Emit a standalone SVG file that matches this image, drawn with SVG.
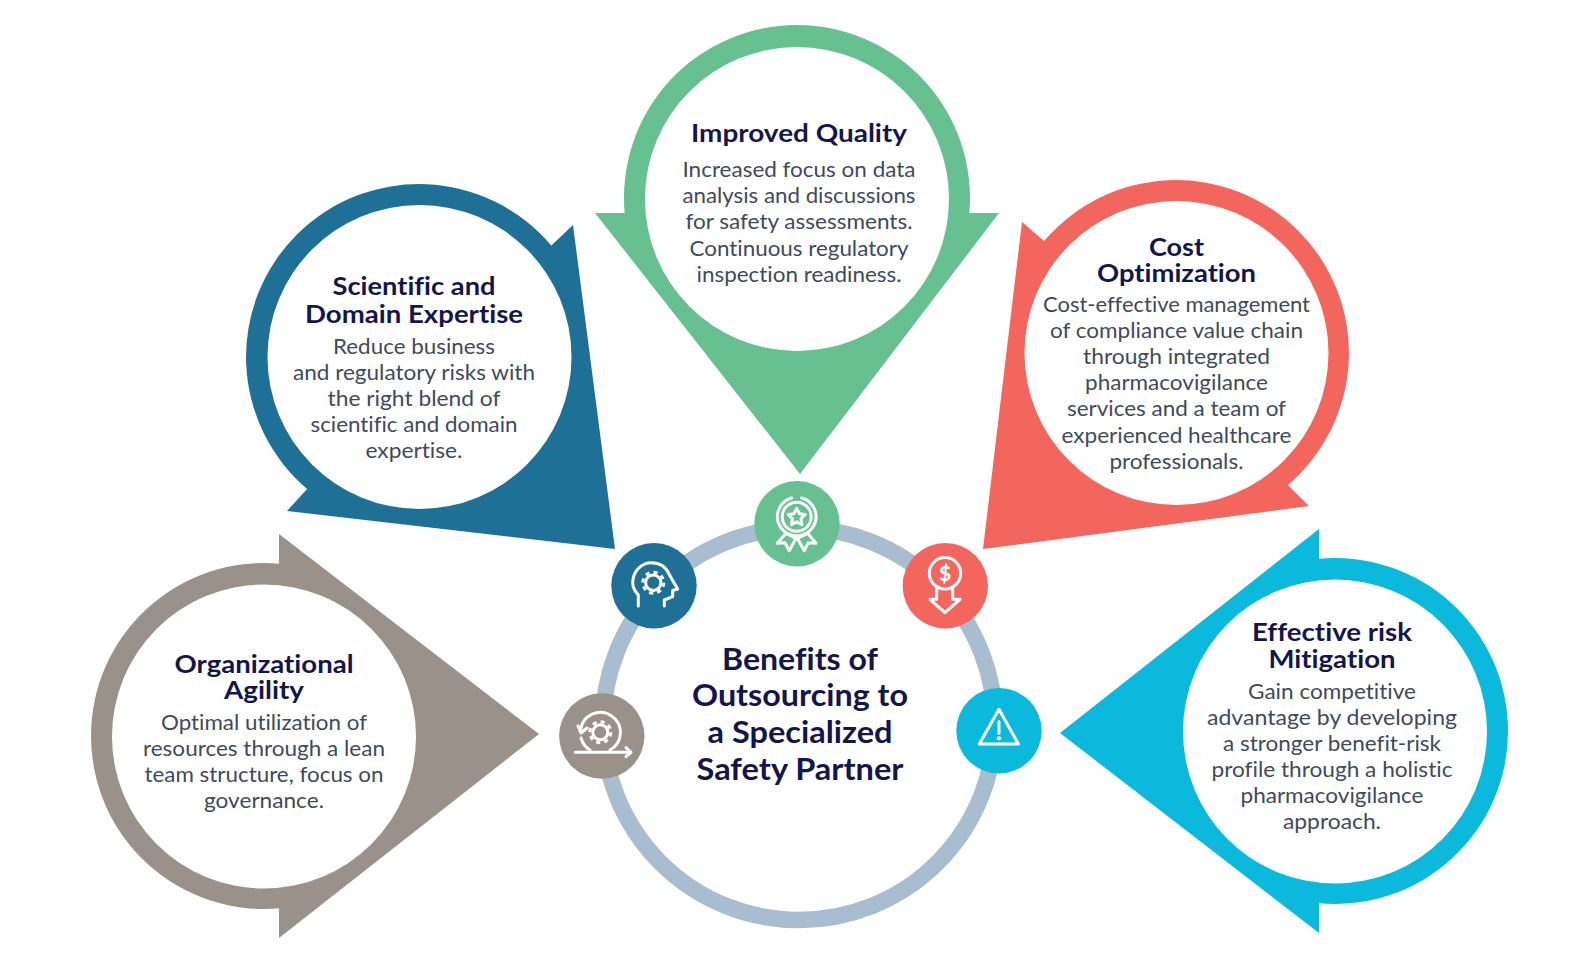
<svg xmlns="http://www.w3.org/2000/svg" width="1581" height="980" viewBox="0 0 1581 980">
<style>
text{font-family:"Lato","Open Sans","Liberation Sans",sans-serif;text-anchor:middle;font-variant-ligatures:none}
.t{font-size:25px;font-weight:700;fill:#14154b}
.b{font-size:21.5px;font-weight:400;fill:#3f4a5b}
.c{font-size:31px;font-weight:700;fill:#14154b}
.in{fill:#fff}
.ic{fill:none;stroke:#fff;stroke-width:3;stroke-linecap:round;stroke-linejoin:round}
.teeth{fill:none;stroke:#fff}
.green{fill:#66c08f}.blue{fill:#1f7097}.red{fill:#f2665e}.gray{fill:#9a918a}.cyan{fill:#0bb9dd}
</style>
<rect width="1581" height="980" fill="#fff"/>
<g id="connectors"><circle cx="799" cy="724" r="196" fill="none" stroke="#a9bdd0" stroke-width="16.5"/></g>

<g id="improved-quality">
<path class="green" d="M595,213 L624.650,213 A173,173 0 0 1 797,25 A173,173 0 0 1 969.350,213 L999,213 L800,474 Z"/>
<circle class="in" cx="797" cy="199" r="152"/>
<text class="t" x="799" y="142" textLength="216" lengthAdjust="spacingAndGlyphs">Improved Quality</text>
<text class="b" x="799" y="177" textLength="233" lengthAdjust="spacingAndGlyphs">Increased focus on data</text>
<text class="b" x="799" y="203" textLength="233" lengthAdjust="spacingAndGlyphs">analysis and discussions</text>
<text class="b" x="799" y="229.200" textLength="227" lengthAdjust="spacingAndGlyphs">for safety assessments.</text>
<text class="b" x="799" y="255.500" textLength="219" lengthAdjust="spacingAndGlyphs">Continuous regulatory</text>
<text class="b" x="799" y="281.800" textLength="205" lengthAdjust="spacingAndGlyphs">inspection readiness.</text>
</g>

<g id="scientific-expertise">
<path class="blue" d="M573,225 L551.300,245.600 A173,173 0 0 0 296.700,234.700 A173,173 0 0 0 307.100,488.900 L287,511 L615,549 Z"/>
<circle class="in" cx="419.500" cy="357" r="152"/>
<text class="t" x="414" y="295.400" textLength="163" lengthAdjust="spacingAndGlyphs">Scientific and</text>
<text class="t" x="414" y="322.600" textLength="218" lengthAdjust="spacingAndGlyphs">Domain Expertise</text>
<text class="b" x="414" y="353.500" textLength="162" lengthAdjust="spacingAndGlyphs">Reduce business</text>
<text class="b" x="414" y="379.500" textLength="242" lengthAdjust="spacingAndGlyphs">and regulatory risks with</text>
<text class="b" x="414" y="405.500" textLength="173" lengthAdjust="spacingAndGlyphs">the right blend of</text>
<text class="b" x="414" y="431.800" textLength="207" lengthAdjust="spacingAndGlyphs">scientific and domain</text>
<text class="b" x="414" y="457.800" textLength="97" lengthAdjust="spacingAndGlyphs">expertise.</text>
</g>

<g id="cost-optimization">
<path class="red" d="M1022,222 L1044.100,241.100 A173,173 0 0 1 1298.300,230.700 A173,173 0 0 1 1287.900,484.900 L1309,506 L983,549 Z"/>
<circle class="in" cx="1176.500" cy="353" r="152"/>
<text class="t" x="1176.500" y="256" textLength="55" lengthAdjust="spacingAndGlyphs">Cost</text>
<text class="t" x="1176.500" y="282" textLength="159" lengthAdjust="spacingAndGlyphs">Optimization</text>
<text class="b" x="1176.500" y="312" textLength="267" lengthAdjust="spacingAndGlyphs">Cost-effective management</text>
<text class="b" x="1176.500" y="338" textLength="253" lengthAdjust="spacingAndGlyphs">of compliance value chain</text>
<text class="b" x="1176.500" y="364" textLength="187" lengthAdjust="spacingAndGlyphs">through integrated</text>
<text class="b" x="1176.500" y="390" textLength="183" lengthAdjust="spacingAndGlyphs">pharmacovigilance</text>
<text class="b" x="1176.500" y="416.200" textLength="219" lengthAdjust="spacingAndGlyphs">services and a team of</text>
<text class="b" x="1176.500" y="442.500" textLength="230" lengthAdjust="spacingAndGlyphs">experienced healthcare</text>
<text class="b" x="1176.500" y="468.500" textLength="134" lengthAdjust="spacingAndGlyphs">professionals.</text>
</g>

<g id="organizational-agility">
<path class="gray" d="M279,534 V563.650 A173,173 0 0 0 91,736 A173,173 0 0 0 279,908.350 V938 L539,734 Z"/>
<circle class="in" cx="264" cy="736.500" r="152"/>
<text class="t" x="264" y="673" textLength="179" lengthAdjust="spacingAndGlyphs">Organizational</text>
<text class="t" x="264" y="699.300" textLength="80" lengthAdjust="spacingAndGlyphs">Agility</text>
<text class="b" x="264" y="730" textLength="206" lengthAdjust="spacingAndGlyphs">Optimal utilization of</text>
<text class="b" x="264" y="756" textLength="242" lengthAdjust="spacingAndGlyphs">resources through a lean</text>
<text class="b" x="264" y="782" textLength="239" lengthAdjust="spacingAndGlyphs">team structure, focus on</text>
<text class="b" x="264" y="808" textLength="120" lengthAdjust="spacingAndGlyphs">governance.</text>
</g>

<g id="risk-mitigation">
<path class="cyan" d="M1319,529 V558.740 A173,173 0 0 1 1508,731 A173,173 0 0 1 1319,903.260 V933 L1060,733 Z"/>
<circle class="in" cx="1335" cy="731.500" r="152"/>
<text class="t" x="1332" y="640.800" textLength="160" lengthAdjust="spacingAndGlyphs">Effective risk</text>
<text class="t" x="1332" y="667.800" textLength="127" lengthAdjust="spacingAndGlyphs">Mitigation</text>
<text class="b" x="1332" y="698.500" textLength="168" lengthAdjust="spacingAndGlyphs">Gain competitive</text>
<text class="b" x="1332" y="724.500" textLength="250" lengthAdjust="spacingAndGlyphs">advantage by developing</text>
<text class="b" x="1332" y="750.500" textLength="218" lengthAdjust="spacingAndGlyphs">a stronger benefit-risk</text>
<text class="b" x="1332" y="776.500" textLength="241" lengthAdjust="spacingAndGlyphs">profile through a holistic</text>
<text class="b" x="1332" y="802.500" textLength="183" lengthAdjust="spacingAndGlyphs">pharmacovigilance</text>
<text class="b" x="1332" y="829" textLength="98" lengthAdjust="spacingAndGlyphs">approach.</text>
</g>

<g id="center-title">
<text class="c" x="800" y="670" textLength="156" lengthAdjust="spacingAndGlyphs">Benefits of</text>
<text class="c" x="800" y="706.300" textLength="216" lengthAdjust="spacingAndGlyphs">Outsourcing to</text>
<text class="c" x="800" y="743.200" textLength="185" lengthAdjust="spacingAndGlyphs">a Specialized</text>
<text class="c" x="800" y="779.800" textLength="207" lengthAdjust="spacingAndGlyphs">Safety Partner</text>
</g>

<g id="icon-quality">
<circle class="green" cx="797" cy="523.700" r="42.700"/>
<path class="ic" d="M801.700,498 A19.300,19.300 0 1 1 791.700,498"/>
<circle class="ic" cx="796.700" cy="516.700" r="14.500"/>
<polygon class="ic" points="796.700,508.300 799.350,513.660 805.260,514.520 800.980,518.690 801.990,524.580 796.700,521.800 791.410,524.580 792.420,518.690 788.140,514.520 794.050,513.660"/>
<polygon class="ic" points="786,533.300 777.300,543.300 785,542.700 789.300,550.700 796,538.300"/>
<polygon class="ic" points="807.700,533.300 816,543.300 808.300,542.700 804.300,550.700 797.300,538.300"/>
</g>

<g id="icon-expertise">
<circle class="blue" cx="654" cy="585.800" r="42.700"/>
<path class="ic" d="M638.300,606 V595 C633,589 632,585 633,579 C635,569 643,562.700 651,562.700 C660,562.700 666,567 669,574 L673.500,582 L677.700,589 L672.700,590.500 V596.700 L664.300,600 V606"/>
<circle class="ic" cx="653.300" cy="582.700" r="7.700" stroke-width="4"/>
<circle class="teeth" cx="653.300" cy="582.700" r="10.500" stroke-width="3" stroke-dasharray="4.120 4.120"/>
</g>

<g id="icon-cost">
<circle class="red" cx="945.300" cy="585.800" r="42.700"/>
<circle class="ic" cx="945" cy="573.300" r="15.700"/>
<text x="945" y="580.500" style="font-size:21px;font-weight:900;fill:#fff">$</text>
<path class="ic" d="M936.700,589 V599.300 H930 L945,612.700 L960,599.300 H952.700 V589"/>
</g>

<g id="icon-agility">
<circle class="gray" cx="601.800" cy="736" r="42.700"/>
<circle class="ic" cx="600.300" cy="732.300" r="7.500" stroke-width="5"/>
<circle class="teeth" cx="600.300" cy="732.300" r="10.500" stroke-width="3" stroke-dasharray="4.120 4.120"/>
<path class="ic" d="M580.600,730 A20,20 0 1 1 610,750"/>
<path class="ic" d="M578,726 L581,733 L587,728"/>
<path class="ic" d="M581,738 A20,20 0 0 0 590,750" stroke-width="2"/>
<path class="ic" d="M575.300,752.300 H630.300 M626,747.700 L631,752.300 L626,756.700"/>
</g>

<g id="icon-risk">
<circle class="cyan" cx="999" cy="730.800" r="42.700"/>
<polygon class="ic" points="999,709.300 1018.300,744 979.300,744"/>
<path class="ic" d="M999,721.700 V733.300" stroke-width="3.500"/>
<circle cx="999" cy="738.300" r="2.100" fill="#fff"/>
</g>
</svg>
